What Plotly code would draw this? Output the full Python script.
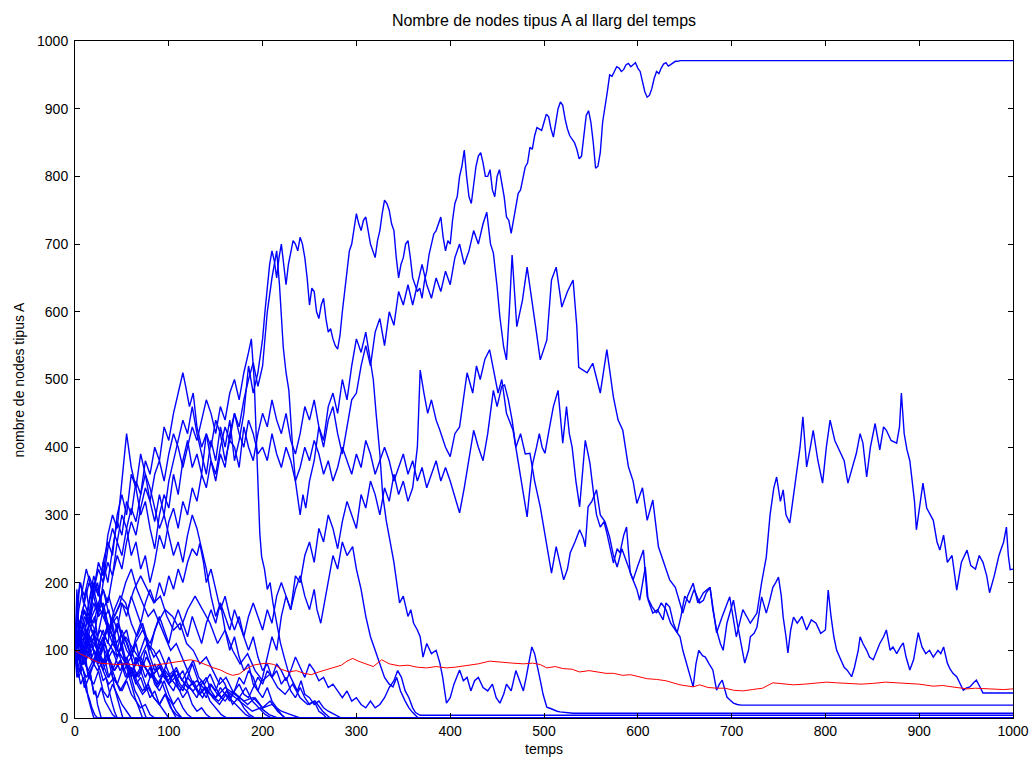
import plotly.graph_objects as go

# ---- data (time, nodes of type A) ----
path_A = [(0,100),(2,130),(5,120),(10,150),(15,135),(20,190),(25,230),(30,210),(35,270),(40,300),(45,280),(50,350),(55,420),(60,370),(65,340),(70,390),(75,360),(80,320),(85,290),(90,330),(95,300),(100,350),(105,380),(110,410),(115,440),(120,420),(125,460),(130,420),(135,390),(140,360),(145,410),(150,380),(155,430),(160,400),(165,440),(170,380),(175,410),(180,450),(185,520),(190,480),(195,510),(200,560),
          (202.5,600),(205,640),(207.5,670),(210,690),(212.5,675),(215,650),(217.5,680),(220,700),(222.5,665),(225,640),(227.5,670),(230,690),(232.5,705),(235,700),(237.5,690),(240,710),(242.5,700),(245,680),(247.5,650),(250,610),(252.5,635),(255,630),(257.5,600),(260,590),(262.5,610),(265,620),(267.5,590),(270,570),(272.5,575),(275,560),(277.5,550),(280,545),(282.5,565),(285,600),(287.5,630),(290,660),(292.5,690),(295,700),(297.5,720),(300,745),(302.5,730),(305,720),(307.5,735),(310,740),(312.5,720),(315,700),(317.5,690),(320,680),(322.5,705),(325,720),(327.5,745),(330,765),(332.5,760),(335,750),(337.5,730),(340,720),(342.5,680),(345,650),(347.5,670),(350,680),(352.5,700),(355,705),(357.5,680),(360,650),(362.5,640),(365,630),(367.5,635),(370,620),(372.5,645),(375,660),(377.5,685),(380,700),(382.5,715),(385,720),(387.5,730),(390,740),(392.5,710),(395,690),(397.5,705),
          (400,700),(402.5,735),(405,760),(407.5,770),(410,800),(412.5,815),(415,839),(417.5,800),(420,770),(422.5,760),(425,790),(427.5,815),(430,830),(432.5,835),(435,820),(437.5,800),(440,800),(442.5,810),(445,780),(447.5,770),(450,800),(452.5,810),(455,790),(457.5,770),(460,740),(462.5,735),(465,716),(467.5,735),(470,760),(472.5,775),(475,780),(477.5,795),(480,814),(482.5,820),(485,843),(487.5,840),(490,860),(492.5,872),(495,870),(497.5,868),(500,880),(502.5,892),(505,888),(507.5,870),(510,858),(512.5,880),(515,900),(517.5,910),(520,905),(522.5,885),(525,870),(527.5,860),(530,854),(532.5,850),(535,840),(537.5,826),(540,830),(542.5,860),(545,890),(547.5,897),(550,880),(552.5,850),(555,812),(557.5,815),(560,835),(562.5,880),(565,900),(567.5,925),(570,950),(572.5,948),(575,955),(577.5,962),(580,960),(582.5,955),(585,958),(587.5,965),(590,967),(592.5,962),(595,965),(597.5,968),(600,960),(602.5,955),(605,940),(607.5,925),(610,917),(612.5,920),(615,930),(617.5,945),(620,955),(622.5,952),(625,960),(627.5,966),(630,968),(632.5,963),(635,965),(637.5,968),(640,970),(642.5,970),(645,971),(650,971),(1000,971)]

path_B = [(0,100),(2,150),(5,140),(10,170),(15,150),(20,200),(25,180),(30,230),(35,260),(40,240),(45,300),(50,330),(55,300),(60,360),(65,340),(70,300),(75,320),(80,280),(85,250),(90,300),(95,330),(100,310),(105,360),(110,330),(115,380),(120,410),(125,370),(130,390),(135,360),(140,420),(145,400),(150,440),(155,420),(160,380),(165,410),(170,400),(175,370),(180,430),(185,400),(190,380),(195,420),(200,450),(205,430),(210,470),(215,440),(220,420),(225,450),(230,410),(235,390),(240,420),(245,460),(250,440),(255,470),(260,430),(265,400),(270,440),(275,460),(280,420),(285,390),(290,430),(295,470),(300,480),(305,520),(310,550),(315,520),(320,570),(325,590),(330,550),(335,600),(340,580),(345,630),(350,610),(355,640),(360,610),(365,640),(370,670),(375,640),(380,620),(385,650),(390,630),(395,660),(400,640),(405,680),(410,700),(415,670),(420,690),(425,720),(430,700),(435,730),(439,747),(443,700),(446,687),(450,637),(453,592),(457,548),(460,529),(463,600),(466,684),(471,578),(477,617),(482,666),(487,620),(492,569),(496,529),(503,558),(508,647),(513,666),(519,607),(525,630),(531,647),(535,578),(537,518),(546,510),(552,524),(560,480),(567,544),(574,474),(579,440),(584,425),(590,371),(595,350),(599,317),(605,340),(610,292),(616,322),(622,253),(627,233),(634,204),(640,193),(648,155),(653,180),(659,199),(664,170),(670,185),(677,193),(684,126),(690,150),(698,179),(705,120),(712,160),(720,140),(727,155),(732,200),(737,238),(741,300),(745,340),(748,356),(752,320),(755,337),(758,300),(762,288),(766,330),(769,362),(773,400),(776,445),(780,371),(784,400),(787,425),(792,380),(797,347),(801,400),(805,440),(810,410),(815,396),(820,380),(824,347),(829,370),(833,391),(837,420),(840,406),(844,356),(848,400),(853,435),(858,396),(862,430),(865,425),(870,410),(876,406),(879,430),(881,480),(884,420),(887,396),(890,380),(892,356),(895,320),(897,278),(900,310),(904,347),(908,310),(912,300),(915,292),(919,260),(922,248),(926,270),(930,230),(935,240),(940,189),(945,230),(951,248),(955,225),(960,220),(964,240),(968,230),(972,210),(975,185),(980,210),(985,240),(990,260),(993,282),(995,240),(997,219),(1000,220)]

path_G = [(0,100),(2,75),(5,70),(10,90),(15,120),(20,100),(25,80),(30,110),(35,140),(40,120),(45,90),(50,110),(55,80),(60,60),(65,90),(70,70),(75,100),(80,80),(85,60),(90,50),(95,70),(100,90),(105,70),(110,50),(115,40),(120,60),(125,80),(130,60),(135,40),(140,30),(145,50),(150,40),(155,60),(160,50),(165,30),(170,40),(175,60),(180,50),(185,70),(190,60),(195,40),(200,60),(205,90),(210,120),(215,100),(220,150),(225,180),(230,160),(235,210),(240,200),(245,240),(250,260),(255,230),(260,280),(265,260),(270,300),(275,280),(280,250),(285,290),(290,320),(295,300),(300,280),(305,330),(310,310),(315,350),(320,330),(325,300),(330,340),(335,320),(340,360),(345,330),(350,350),(355,320),(360,340),(365,400),(368,514),(372,480),(376,450),(380,470),(385,440),(389,425),(395,400),(400,386),(405,420),(410,430),(414,470),(418,510),(424,480),(428,520),(432,500),(437,530),(442,544),(447,510),(451,480),(455,500),(460,450),(467,425),(470,400),(474,366),(478,330),(482,297),(485,340),(488,376),(492,400),(495,420),(498,400),(501,391),(506,430),(510,460),(515,484),(520,406),(524,460),(527,420),(530,400),(534,350),(538,312),(541,360),(544,410),(547,390),(549,376),(553,330),(556,300),(560,282),(564,290),(567,273),(571,250),(574,229),(578,250),(581,244),(585,270),(588,282),(592,214),(595,204),(599,190),(602,174),(605,200),(608,223),(611,174),(616,155),(621,160),(627,145),(630,170),(634,164),(638,140),(642,126),(646,150),(650,180),(655,170),(660,190),(666,170),(670,174),(673,185),(677,193),(680,160),(684,130),(688,110),(691,100),(695,140),(699,160),(702,174),(706,140),(710,110),(714,81),(718,100),(720,120),(724,125),(727,134),(732,179),(737,155),(740,170),(744,193),(747,200),(750,208),(753,180),(755,149),(758,120),(760,96),(763,130),(766,149),(770,140),(775,150),(780,130),(785,145),(790,140),(795,125),(800,130),(803,189),(806,150),(809,120),(812,100),(816,86),(820,75),(823,71),(826,65),(828,61),(831,75),(833,86),(835,100),(837,120),(840,110),(844,100),(847,90),(851,86),(855,100),(858,110),(862,120),(865,130),(867,115),(869,100),(872,105),(876,95),(880,105),(883,111),(886,90),(890,71),(894,86),(897,110),(899,126),(903,105),(907,95),(911,100),(915,90),(920,100),(923,95),(926,105),(928,90),(930,81),(933,72),(936,66),(940,61),(944,50),(947,41),(950,44),(954,46),(958,52),(961,56),(964,48),(968,37),(1000,37)]

path_H = [(0,100),(2,160),(5,130),(10,160),(15,140),(20,190),(25,220),(30,200),(35,250),(40,280),(45,260),(50,300),(55,280),(60,240),(65,260),(70,220),(75,240),(80,200),(85,230),(90,270),(95,250),(100,290),(105,310),(110,280),(115,320),(120,300),(125,340),(130,320),(135,360),(140,340),(145,380),(150,360),(155,400),(160,430),(165,410),(170,450),(175,420),(180,400),(185,440),(190,420),(195,390),(200,400),(205,380),(210,420),(215,390),(220,370),(225,400),(230,380),(235,350),(240,370),(245,400),(250,380),(255,410),(260,390),(265,360),(270,380),(275,350),(280,370),(285,400),(290,380),(295,360),(300,390),(305,370),(310,410),(315,390),(320,360),(325,380),(330,400),(335,380),(340,350),(345,370),(350,390),(355,360),(360,380),(365,350),(370,370),(375,340),(380,360),(385,380),(390,350),(395,370),(400,350),(405,326),(410,303),(415,340),(420,380),(425,425),(430,400),(435,380),(440,420),(446,484),(450,460),(455,490),(458,492),(462,470),(466,440),(470,400),(475,420),(480,390),(485,391),(490,350),(496,312),(500,280),(503,253),(508,214),(513,253),(517,230),(521,204),(525,220),(528,244),(533,260),(538,278),(542,265),(544,253),(547,312),(551,320),(556,337),(560,300),(565,290),(570,267),(574,240),(578,223),(583,250),(588,230),(592,215),(595,204),(600,225),(606,248),(610,179),(615,165),(620,155),(625,170),(630,160),(635,140),(640,130),(645,120),(648,100),(652,81),(656,60),(659,46),(662,80),(665,100),(669,92),(672,90),(676,80),(680,71),(684,41),(687,50),(690,56),(693,40),(695,31),(698,27),(702,22),(706,20),(710,19),(1000,19)]

path_F = [(0,100),(2,70),(5,140),(10,120),(15,170),(20,200),(25,180),(30,230),(35,200),(40,250),(45,290),(50,270),(55,320),(60,300),(65,350),(70,330),(75,380),(80,360),(85,400),(90,380),(95,430),(100,410),(105,450),(110,480),(115,510),(118,490),(122,460),(126,480),(130,430),(135,400),(140,420),(145,380),(150,350),(155,390),(160,370),(165,420),(170,450),(175,430),(180,470),(185,500),(190,525),(195,490),(200,520),(205,600),(210,650),(215,690),(218,640),(222,548),(225,510),(228,484),(230,440),(232,400),(235,350),(238,320),(240,300),(243,330),(246,310),(250,350),(255,380),(260,430),(265,410),(270,460),(275,480),(280,450),(285,500),(290,470),(295,520),(300,560),(305,540),(310,570),(315,530),(318,500),(321,450),(325,390),(328,330),(332,290),(336,260),(340,230),(343,200),(346,170),(350,180),(355,150),(358,160),(361,140),(365,130),(368,120),(371,90),(375,110),(380,95),(385,100),(389,81),(392,60),(396,22),(400,30),(404,50),(410,71),(414,55),(418,60),(422,40),(426,55),(430,60),(435,45),(440,40),(445,50),(449,30),(453,22),(457,35),(460,50),(465,40),(470,70),(474,55),(478,40),(481,60),(484,80),(487,105),(490,95),(492,80),(494,70),(496,56),(499,35),(503,16),(507,14),(510,12),(514,10),(517,9),(524,8),(531,7),(1000,7)]

path_K = [(0,100),(2,190),(5,80),(10,110),(15,140),(20,120),(25,160),(30,190),(35,170),(40,210),(45,240),(50,220),(55,260),(60,290),(65,270),(70,310),(75,340),(80,320),(85,360),(90,380),(95,350),(100,390),(105,420),(110,400),(115,370),(120,400),(125,430),(130,410),(135,440),(140,470),(145,450),(150,420),(155,460),(160,440),(165,480),(170,500),(175,470),(180,510),(185,540),(188,560),(191,500),(193,420),(195,330),(197,273),(199,238),(202,220),(205,190),(208,200),(211,170),(215,140),(219,111),(223,90),(227,70),(230,60),(233,52),(237,40),(241,55),(245,35),(250,30),(255,20),(260,25),(265,15),(270,10),(275,6),(280,3),(284,0),(1000,0)]

path_N = [(0,100),(2,120),(5,120),(10,100),(15,140),(20,170),(25,150),(30,200),(35,230),(40,210),(45,260),(50,240),(55,280),(60,310),(65,290),(70,330),(75,360),(80,340),(85,310),(90,280),(95,300),(100,270),(105,240),(110,260),(115,230),(120,270),(125,300),(130,280),(135,250),(140,220),(145,180),(150,150),(155,170),(160,130),(165,100),(170,120),(175,90),(180,70),(185,80),(190,50),(195,40),(200,30),(205,45),(210,25),(215,15),(220,5),(224,0),(1000,0)]

path_P = [(0,100),(2,90),(5,90),(10,120),(15,100),(20,80),(25,110),(30,130),(35,110),(40,150),(45,130),(50,170),(55,150),(60,180),(65,160),(70,140),(75,170),(80,190),(85,170),(90,200),(95,180),(100,210),(105,190),(110,220),(115,200),(120,230),(125,250),(130,240),(133,258),(137,230),(140,200),(145,220),(150,190),(155,160),(160,180),(165,150),(170,130),(175,150),(180,120),(185,100),(190,120),(195,90),(200,70),(205,80),(210,60),(215,70),(220,50),(225,60),(230,40),(235,30),(240,45),(245,30),(250,20),(255,25),(260,10),(265,5),(268,0),(1000,0)]

path_Q = [(0,100),(2,110),(5,110),(10,80),(15,100),(20,120),(25,90),(30,110),(35,140),(40,120),(45,100),(50,130),(55,110),(60,90),(65,120),(70,140),(75,120),(80,100),(85,130),(90,150),(95,130),(100,110),(105,140),(110,160),(115,140),(120,120),(125,150),(130,130),(135,110),(140,140),(145,160),(150,140),(155,170),(160,150),(165,130),(170,160),(175,140),(180,120),(185,150),(190,170),(195,150),(200,130),(205,160),(210,140),(215,180),(220,200),(225,180),(230,160),(235,190),(240,210),(245,180),(250,160),(255,190),(258,160),(262,140),(266,170),(270,200),(275,240),(280,220),(285,260),(290,240),(296,253),(300,220),(305,190),(310,150),(315,120),(320,100),(325,80),(330,60),(335,50),(339,46),(343,60),(347,40),(352,25),(356,15),(360,8),(364,3),(366,0),(1000,0)]

path_R = [(0,100),(2,60),(5,70),(10,90),(15,60),(20,80),(25,100),(30,70),(35,90),(40,60),(45,50),(50,70),(55,90),(60,70),(65,50),(70,60),(75,40),(80,60),(85,80),(90,60),(95,70),(100,50),(105,40),(110,60),(115,70),(120,50),(125,40),(130,30),(135,50),(140,60),(145,40),(150,30),(155,45),(160,35),(165,25),(170,40),(175,50),(180,35),(185,30),(190,45),(195,60),(200,50),(205,70),(210,60),(215,80),(220,70),(225,55),(230,70),(235,90),(240,75),(245,60),(250,80),(255,70),(260,55),(265,60),(270,45),(275,50),(280,40),(285,30),(290,40),(295,25),(300,30),(305,20),(310,15),(315,25),(320,15),(325,20),(330,30),(335,45),(340,55),(344,70),(348,60),(352,40),(356,30),(360,15),(363,8),(368,4),(1000,4)]

# short-lived runs: (time step, values until absorption at 0)
short_runs = [
    (2, [100,80,95,70,60,45,50,30,20,8,0]),
    (3, [100,120,110,140,130,110,90,100,80,70,55,60,40,25,10,0]),
    (4, [100,130,160,150,180,210,190,170,150,160,130,110,120,90,70,50,30,15,0]),
    (4, [100,90,110,130,120,100,80,95,110,90,70,85,100,120,110,90,70,60,75,90,80,60,45,55,40,25,10,0]),
    (5, [100,140,170,200,180,150,160,130,110,140,120,100,90,110,80,60,75,50,40,55,35,20,30,15,5,0]),
    (5, [100,70,90,60,50,70,40,30,50,35,20,10,0]),
    (5, [100,110,130,150,140,170,190,160,140,150,120,130,100,80,100,120,90,70,80,60,50,65,45,30,40,20,10,15,5,0]),
    (6, [100,80,60,75,90,70,50,60,40,55,70,50,35,45,30,20,35,25,10,0]),
    (6, [100,130,120,150,170,150,130,160,180,170,140,120,140,110,90,100,80,60,75,55,70,50,35,45,25,15,5,0]),
    (3, [100,70,50,60,40,30,15,5,0]),
    (5, [100,120,90,110,130,100,80,60,70,50,40,55,35,25,15,20,5,0]),
    (6, [100,90,110,140,120,160,180,150,170,200,220,190,170,150,160,140,120,100,110,90,70,85,60,50,65,45,30,40,20,30,15,5,0]),
    (7, [100,80,100,120,110,90,70,85,60,75,90,110,100,80,60,70,50,40,55,35,45,30,20,35,25,15,5,0]),
    (8, [100,110,90,70,90,110,95,75,60,80,65,50,70,55,40,60,45,30,50,35,25,40,30,20,30,15,25,10,0]),
    (4, [100,160,190,220,200,180,200,170,150,120,140,110,90,70,80,60,40,30,15,0]),
    (8, [100,90,120,100,80,100,70,90,110,130,110,140,160,150,130,160,180,160,140,110,130,100,80,95,70,55,65,45,35,50,30,20,25,10,0]),
    (2, [100,150,130,110,90,105,80,60,70,50,35,40,20,10,0]),
    (3, [100,180,200,170,190,160,140,150,120,100,110,80,60,70,45,30,15,0]),
    (4, [100,60,75,50,65,40,30,45,25,15,5,0]),
    (5, [100,200,180,210,190,160,170,140,120,130,100,80,90,60,70,50,30,40,20,10,0]),
    (6, [100,120,150,130,100,120,90,70,85,60,75,55,40,50,30,20,35,15,5,0]),
    (9, [100,80,100,130,110,90,120,100,80,60,75,55,70,50,40,55,35,25,40,30,20,10,15,5,0]),
    (10, [100,120,100,80,110,90,70,90,60,75,50,65,45,55,40,30,45,35,25,30,15,20,10,5,0]),
    (7, [100,90,70,90,110,130,150,170,160,190,210,190,170,180,150,130,140,110,100,80,90,70,50,60,40,30,45,25,15,5,0]),
]

mean_t = [0,5,10,15,20,27,35,45,55,65,77,85,95,105,115,123,130,140,148,155,162,168,175,182,190,198,205,212,220,228,236,244,252,260,268,276,284,290,296,302,310,318,327,335,346,355,365,375,385,396,405,418,430,442,455,467,478,488,496,503,512,520,530,538,548,558,566,574,584,592,600,610,620,630,645,659,666,675,685,693,702,712,722,733,744,755,766,778,790,801,812,825,838,850,864,876,888,900,915,925,935,944,951,960,970,980,990,1000]
mean_v = [100,95,92,88,85,81,80,79,80,78,76,78,80,82,84,86,84,78,74,71,66,63,65,72,78,80,81,79,72,68,70,66,64,68,71,74,78,84,88,84,80,76,86,80,77,78,75,74,76,74,75,78,80,84,82,81,80,81,79,74,76,73,72,68,70,68,66,66,63,64,61,58,57,55,49,46,49,45,44,44,41,40,42,44,52,50,49,50,51,53,52,51,50,51,53,52,51,50,47,48,46,44,43,44,43,43,42,43]

title_text = "Nombre de nodes tipus A al llarg del temps"
x_label = "temps"
y_label = "nombre de nodes tipus A"
tick_vals = list(range(0, 1001, 100))

BLUE = "#0000ff"
RED = "#ff0000"
FONT = "Liberation Sans, Arial, sans-serif"
LW = 1.4

fig = go.Figure()

for dt, vals in short_runs:
    xs = [i * dt for i in range(len(vals))] + [1000]
    ys = list(vals) + [vals[-1]]
    fig.add_trace(go.Scatter(x=xs, y=ys, mode="lines", line=dict(color=BLUE, width=LW),
                             hoverinfo="skip", showlegend=False))

for pts in [path_R, path_Q, path_P, path_N, path_K, path_F, path_H, path_G, path_B, path_A]:
    xs = [p[0] for p in pts]
    ys = [p[1] for p in pts]
    fig.add_trace(go.Scatter(x=xs, y=ys, mode="lines", line=dict(color=BLUE, width=LW),
                             hoverinfo="skip", showlegend=False))

fig.add_trace(go.Scatter(x=mean_t, y=mean_v, mode="lines", line=dict(color=RED, width=1),
                         hoverinfo="skip", showlegend=False))

axis_common = dict(
    showgrid=False, zeroline=False, showline=True, linecolor="black", linewidth=1,
    mirror="allticks", ticks="inside", ticklen=5, tickcolor="black",
    tickfont=dict(family=FONT, size=14, color="black"),
    tickvals=tick_vals, range=[0, 1000], automargin=False,
)

fig.update_layout(
    width=1032, height=762,
    margin=dict(l=75, r=19, t=41, b=44, autoexpand=False),
    paper_bgcolor="white", plot_bgcolor="white",
    xaxis=dict(**axis_common),
    yaxis=dict(**axis_common, ticklabelstandoff=3),
    title=dict(text=title_text, x=0.5, xref="paper", y=1 - 20 / 762, yref="container",
               xanchor="center", yanchor="middle",
               font=dict(family=FONT, size=16, color="black")),
    annotations=[
        dict(text=x_label, xref="paper", yref="paper", x=0.5, y=-31 / 677, xanchor="center",
             yanchor="middle", showarrow=False,
             font=dict(family=FONT, size=14, color="black")),
        dict(text=y_label, xref="paper", yref="paper", x=-57 / 938, y=0.5, xanchor="center",
             yanchor="middle", showarrow=False, textangle=-90,
             font=dict(family=FONT, size=14, color="black")),
    ],
)

fig.write_html("out.html", config={"responsive": False},
               post_script="document.body.style.margin='0px';")
